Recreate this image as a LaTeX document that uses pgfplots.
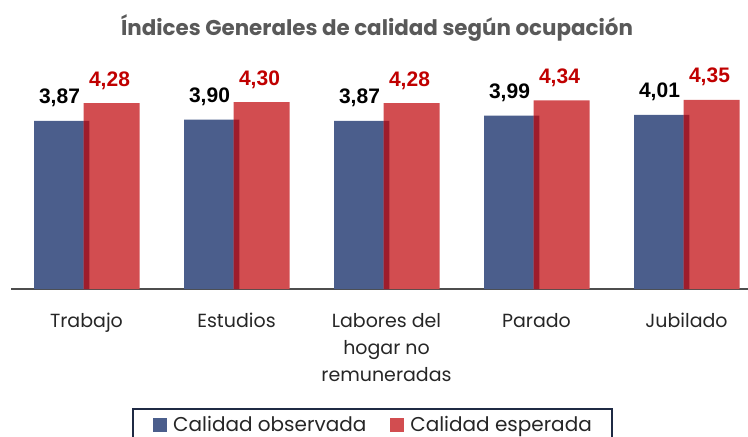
\documentclass[border=0pt]{standalone}
\usepackage{fontspec}
\setmainfont{Poppins}
\newfontfamily\arialf{Liberation Sans}
\usepackage{pgfplots}
\pgfplotsset{compat=1.18}
\definecolor{cblue}{HTML}{4B5E8C}
\definecolor{cred}{HTML}{D24D50}
\definecolor{cdark}{HTML}{9D1D2C}
\definecolor{ctitle}{HTML}{595959}
\definecolor{clab}{HTML}{C00000}
\definecolor{cnavy}{HTML}{1F2A44}
\definecolor{caxis}{HTML}{4D4D4D}
\definecolor{ctick}{HTML}{262626}
\begin{document}
\begin{tikzpicture}
\begin{axis}[
  at={(11.5pt,148pt)}, anchor=south west,
  scale only axis, width=736.5pt, height=217.25pt,
  xmin=-0.5, xmax=4.41, ymin=0, ymax=5,
  axis x line*=bottom, axis y line=none,
  x axis line style={draw=caxis, line width=2.5pt},
  xtick={0,1,2,3,4},
  xticklabels={Trabajo, Estudios, {Labores del\\hogar no\\remuneradas}, Parado, Jubilado},
  major tick length=0pt,
  xticklabel style={align=center, font=\fontsize{19}{27}\selectfont, text=ctick, anchor=north, inner sep=0pt, yshift=-24pt},
  clip=false,
  title={\textbf{Índices Generales de calidad según ocupación}},
  title style={at={(0.4963,1.169)}, anchor=base, yshift=-6pt, font=\fontsize{21.4}{24}\selectfont, text=ctitle},
  legend style={at={(0.4902,-0.5478)}, anchor=north, legend columns=2, draw=cnavy, line width=1.5pt,
    font=\fontsize{20}{22}\selectfont, text=ctick, inner xsep=20pt, inner ysep=8pt,
    nodes={inner sep=0pt},
    /tikz/every odd column/.append style={column sep=6pt},
    /tikz/every even column/.append style={column sep=24pt}},
  legend image code/.code={\fill[#1,draw=none] (0pt,-7pt) rectangle (14pt,7pt);},
]
\addplot[ybar, bar width=55pt, bar shift=-25pt, fill=cblue, draw=none,
  nodes near coords={\pgfmathprintnumber[fixed,fixed zerofill,precision=2,use comma,assume math mode=true]{\pgfplotspointmeta}},
  nodes near coords style={font=\arialf\bfseries\fontsize{21}{24}\selectfont, text=black, anchor=base, yshift=17pt, xshift=-27pt, inner sep=0pt}]
  coordinates {(0,3.87) (1,3.90) (2,3.87) (3,3.99) (4,4.01)};
\addlegendentry{Calidad observada}
\addplot[ybar, bar width=56pt, bar shift=25pt, fill=cred, draw=none,
  nodes near coords={\pgfmathprintnumber[fixed,fixed zerofill,precision=2,use comma,assume math mode=true]{\pgfplotspointmeta}},
  nodes near coords style={font=\arialf\bfseries\fontsize{21}{24}\selectfont, text=clab, anchor=base, yshift=17pt, xshift=23pt, inner sep=0pt}]
  coordinates {(0,4.28) (1,4.30) (2,4.28) (3,4.34) (4,4.35)};
\addlegendentry{Calidad esperada}
\addplot[ybar, bar width=5.5pt, bar shift=0pt, fill=cdark, draw=none, forget plot]
  coordinates {(0,3.87) (1,3.90) (2,3.87) (3,3.99) (4,4.01)};
\end{axis}
\pgfresetboundingbox
\path[use as bounding box] (0,0) rectangle (748pt,437pt);
\end{tikzpicture}
\end{document}
